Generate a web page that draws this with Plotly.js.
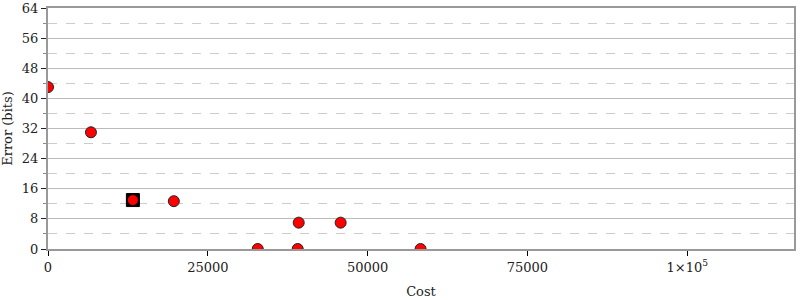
<!DOCTYPE html>
<html>
<head>
<meta charset="utf-8">
<script src="https://cdn.plot.ly/plotly-3.0.1.min.js"></script>
<style>html,body{margin:0;padding:0;background:#fff;}#chart{width:800px;height:300px;}</style>
</head>
<body>
<div id="chart"></div>
<script>
const cost = [0, 6719, 19687, 32812, 39219, 39062, 45781, 58281];
const errorBits = [43, 31, 12.7, 0, 7, 0, 7, 0];
const bestCost = [13281];
const bestError = [13];
const xTickVals = [0, 25000, 50000, 75000, 100000];
const xTickText = ['0', '25000', '50000', '75000', '1×10<sup>5</sup>'];
const yTickVals = [0, 8, 16, 24, 32, 40, 48, 56, 64];

const font = {family: 'DejaVu Serif, serif', size: 13, color: '#222'};

const traces = [
  {x: bestCost, y: bestError, type: 'scatter', mode: 'markers',
   marker: {symbol: 'square', size: 13, color: '#000', line: {color: '#000', width: 1}}, hoverinfo: 'skip'},
  {x: bestCost, y: bestError, type: 'scatter', mode: 'markers',
   marker: {symbol: 'circle', size: 11, color: '#ff0000', line: {color: '#000', width: 1}}},
  {x: cost, y: errorBits, type: 'scatter', mode: 'markers',
   marker: {symbol: 'circle', size: 11, color: '#ff0000', line: {color: '#222', width: 1}}}
];

const layout = {
  width: 800, height: 300,
  margin: {l: 48, r: 6, t: 8, b: 51, pad: 0},
  paper_bgcolor: '#fff', plot_bgcolor: '#fff',
  showlegend: false,
  font: font,
  xaxis: {
    range: [0, 116700], tickvals: xTickVals, ticktext: xTickText,
    showgrid: false, zeroline: false,
    ticks: 'outside', ticklen: 5, tickcolor: '#000', tickwidth: 1,
    showline: true, linecolor: '#999', linewidth: 2, mirror: true,
    tickfont: font,
    title: {text: 'Cost', font: font, standoff: 13}
  },
  yaxis: {
    range: [0, 64], tickvals: yTickVals,
    showgrid: true, gridcolor: '#bbb', gridwidth: 1,
    zeroline: false,
    ticks: 'outside', ticklen: 5, tickcolor: '#222', tickwidth: 1,
    showline: true, linecolor: '#999', linewidth: 2, mirror: true,
    tickfont: font,
    minor: {dtick: 4, tick0: 0, ticks: 'outside', ticklen: 3, tickcolor: '#888',
            showgrid: true, gridcolor: '#ccc', griddash: 'dash', gridwidth: 1},
    title: {text: 'Error (bits)', font: font, standoff: 6}
  }
};

Plotly.newPlot('chart', traces, layout, {displayModeBar: false, staticPlot: true});
</script>
</body>
</html>
